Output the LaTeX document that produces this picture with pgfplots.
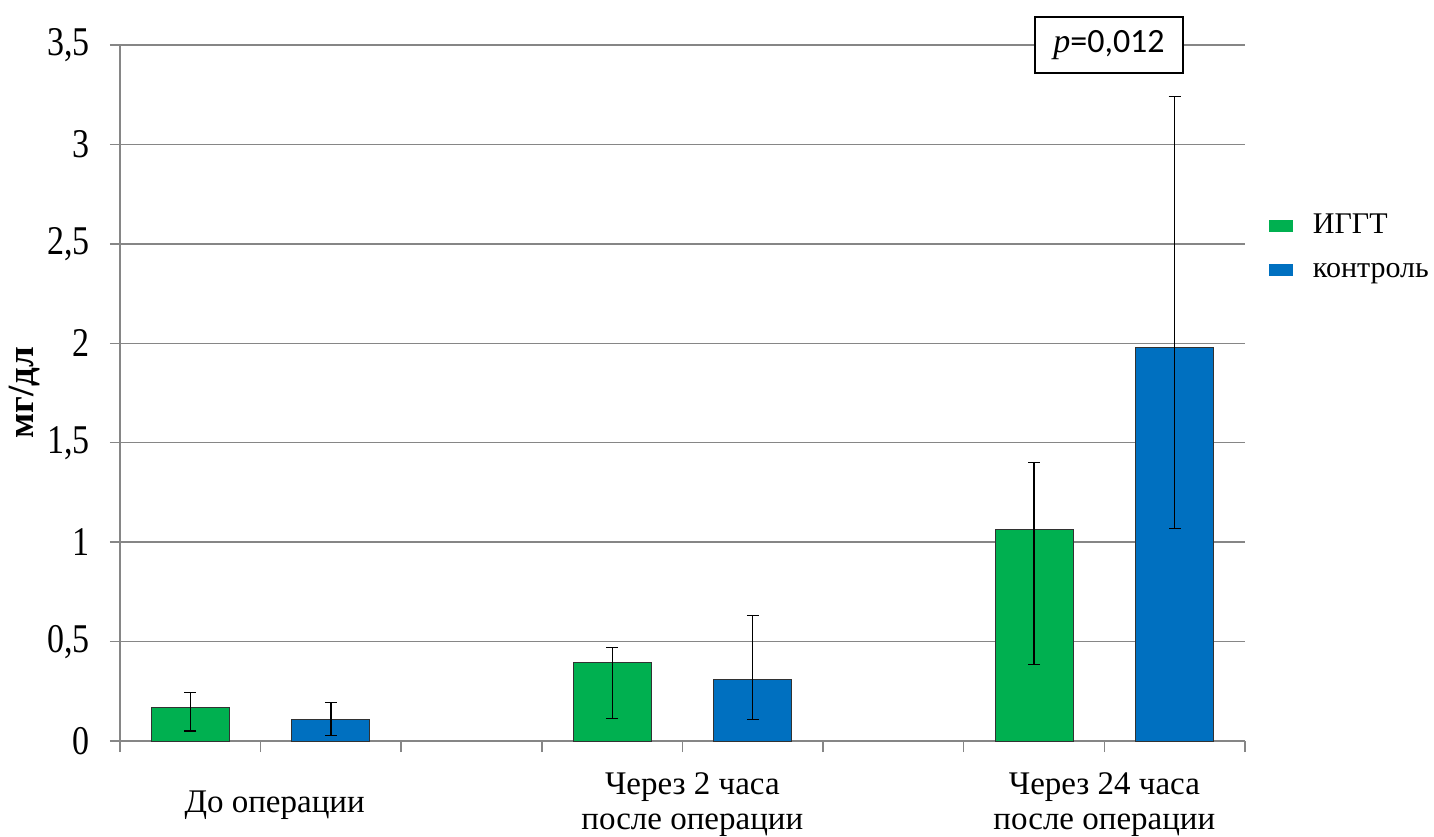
\documentclass[border=0pt]{standalone}
\usepackage{pgfplots}
\pgfplotsset{compat=1.18}
\usepackage{fontspec}
\setmainfont{Liberation Serif}
\newfontfamily\calibri{Carlito}
\definecolor{ggreen}{HTML}{00B050}
\definecolor{gblue}{HTML}{0070C0}
\definecolor{axgray}{RGB}{134,134,134}
\definecolor{barline}{RGB}{50,50,50}
\pgfplotsset{
  myleg/.style={legend image code/.code={\fill[##1, draw=none] (0bp,-3bp) rectangle (12bp,3bp);}},
  myerr/.style={error bars/.cd, y dir=both, y explicit,
    error bar style={black, line width=0.6bp},
    error mark options={black, mark size=3bp, line width=0.6bp, rotate=90}}
}
\begin{document}
\begin{tikzpicture}
\clip (-60bp,-48bp) rectangle (657bp,370.5bp);
\begin{axis}[
  at={(0,0)}, anchor=south west,
  scale only axis, width=562.5bp, height=348bp,
  xmin=0, xmax=8, ymin=0, ymax=3.5,
  clip=false,
  axis x line*=bottom, axis y line*=left,
  axis line style={axgray, line width=0.75bp},
  ytick={0,0.5,1,1.5,2,2.5,3,3.5},
  /pgf/number format/use comma,
  /pgf/number format/assume math mode=true,
  yticklabel={\scalebox{1}[1.2]{\pgfmathprintnumber{\tick}}},
  ymajorgrids, grid style={axgray, line width=0.75bp},
  tick align=outside, major tick length=5bp,
  ytick style={axgray, line width=0.75bp},
  yticklabel style={inner sep=0pt, xshift=-10bp, font=\fontsize{17bp}{20bp}\selectfont},
  xtick={1.1,4.07,7.0},
  xticklabels={До операции, {Через 2 часа\\после операции}, {Через 24 часа\\после операции}},
  xticklabel style={align=center, anchor=center, inner sep=0pt, yshift=-27bp, font=\fontsize{16.5bp}{17.5bp}\selectfont},
  xtick style={draw=none},
  extra x ticks={0,1,2,3,4,5,6,7,8},
  extra x tick labels={},
  extra x tick style={xtick style={draw=axgray, line width=0.75bp}, major tick length=5.5bp},
  ylabel={\textbf{мг/дл}},
  ylabel style={at={(axis description cs:-0.085,0.5)}, anchor=center, font=\fontsize{18.5bp}{20bp}\selectfont},
  ybar, bar width=39bp, bar shift=0pt,
  legend style={at={(rel axis cs:1.0213,0.7586)}, anchor=north west, draw=none, fill=none,
    inner sep=0pt, outer sep=0pt, font=\fontsize{15bp}{18bp}\selectfont,
    nodes={inner sep=0pt, text height=10bp, text depth=3bp}, row sep=9bp, column sep=10bp},
  legend cell align=left,
]
\addplot[fill=ggreen, draw=barline, line width=0.5bp, myleg, myerr] coordinates {
  (0.5,0.170) += (0,0.075) -= (0,0.120)
  (3.5,0.397) += (0,0.074) -= (0,0.283)
  (6.5,1.066) += (0,0.334) -= (0,0.682)
};
\addlegendentry{ИГГТ}
\addplot[fill=gblue, draw=barline, line width=0.5bp, myleg, myerr] coordinates {
  (1.5,0.106) += (0,0.087) -= (0,0.079)
  (4.5,0.309) += (0,0.323) -= (0,0.201)
  (7.5,1.980) += (0,1.260) -= (0,0.913)
};
\addlegendentry{контроль}
\node[draw=black, line width=1bp, fill=white, minimum width=74bp, minimum height=27.5bp, inner sep=0pt]
  at (axis cs:7.033,3.5) {\fontsize{17bp}{20bp}\selectfont\textit{p}{\calibri =0,012}};
\end{axis}
\end{tikzpicture}
\end{document}
